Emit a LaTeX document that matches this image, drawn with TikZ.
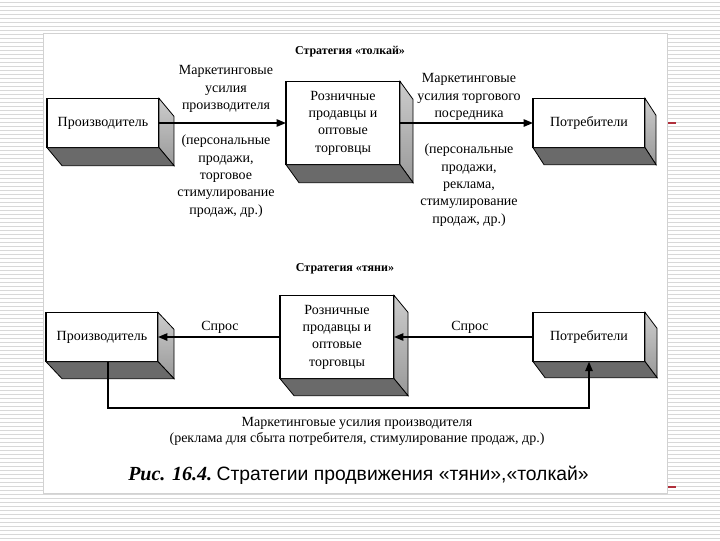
\documentclass[tikz,border=0pt]{standalone}
\usepackage{fontspec}
\setmainfont{Liberation Serif}
\newfontfamily\capsans{Liberation Sans}
\usetikzlibrary{arrows.meta,calc}
\definecolor{stripe}{HTML}{D8D8D8}
\definecolor{botgray}{HTML}{6A6A6A}
\definecolor{markred}{HTML}{B0303C}
\newcommand\bodyfont{\fontsize{10.5}{13}\selectfont}
\newcommand\drawsolid[3]{%
  \path[draw=black, line width=0.6pt, top color=gray!40, bottom color=gray!80]
    (#1.north east) -- ++(#2,#3) -- ($(#1.south east)+(#2,#3)$) -- (#1.south east) -- cycle;
  \path[draw=black, line width=0.6pt, fill=botgray]
    (#1.south west) -- (#1.south east) -- ++(#2,#3) -- ($(#1.south west)+(#2,#3)$) -- cycle;
}
\tikzset{
  frontbox/.style={draw=black, line width=0.8pt, fill=white, align=center,
    inner sep=0pt, outer sep=0pt, font=\bodyfont},
  smallbox/.style={frontbox, minimum width=84pt, minimum height=37pt},
  bigbox/.style={frontbox, minimum width=85.5pt, minimum height=62.5pt},
  lbl/.style={align=center, font=\bodyfont, inner sep=0pt},
  ttl/.style={font=\fontsize{9}{11}\selectfont\bfseries, inner sep=0pt},
  conn/.style={line width=1.1pt, -{Triangle[length=7pt,width=5.5pt]}},
}
\begin{document}
\begin{tikzpicture}[x=0.75pt,y=-0.75pt]
\useasboundingbox (0,0) rectangle (720,540);
\fill[white] (0,0) rectangle (720,540);
\foreach \k in {0,...,134} \draw[stripe, line width=0.75pt] (0,{\k*4+2}) -- (720,{\k*4+2});
\fill[white] (43,33) rectangle (667,493);
\draw[gray!35, line width=0.5pt] (43,33) rectangle (667,493);

% top row
\node[smallbox] (p1) at (103,123) {Производитель};
\node[bigbox] (r1) at (343,123) {Розничные\\продавцы и\\оптовые\\торговцы};
\node[smallbox] (c1) at (589,123) {Потребители};
\drawsolid{p1}{15}{18}
\drawsolid{r1}{13}{18}
\drawsolid{c1}{11}{17}

% bottom row
\node[smallbox] (p2) at (102,337) {Производитель};
\node[bigbox] (r2) at (337,337) {Розничные\\продавцы и\\оптовые\\торговцы};
\node[smallbox] (c2) at (589,337) {Потребители};
\drawsolid{p2}{16}{17}
\drawsolid{r2}{14}{17}
\drawsolid{c2}{12}{16}

% titles
\node[ttl] (t1) at (350,52) {Стратегия «толкай»};
\node[ttl] (t2) at (345,269) {Стратегия «тяни»};

% top connectors
\draw[conn] (p1.east) -- (r1.west);
\draw[conn] (r1.east) -- (c1.west);
\node[lbl] (m1) at (226,89) {Маркетинговые\\усилия\\производителя};
\node[lbl] (m1b) at (226,176) {(персональные\\продажи,\\торговое\\стимулирование\\продаж, др.)};
\node[lbl] (m2) at (469,97) {Маркетинговые\\усилия торгового\\посредника};
\node[lbl] (m2b) at (469,185) {(персональные\\продажи,\\реклама,\\стимулирование\\продаж, др.)};

% bottom connectors
\draw[conn] (c2.west) -- (r2.east);
\draw[conn] (r2.west) -- (p2.east);
\node[lbl] (s1) at (220,327) {Спрос};
\node[lbl] (s2) at (470,327) {Спрос};
\coordinate (lc) at (108,408);
\draw[conn] (p2.south -| lc) -- (lc) -| (c2.south);
\node[lbl, font=\fontsize{10.5}{12}\selectfont] (b1) at (357,431)
  {Маркетинговые усилия производителя\\(реклама для сбыта потребителя, стимулирование продаж, др.)};

% caption
\node[anchor=west, inner sep=0pt] (cap) at (128,475)
  {{\bfseries\itshape\fontsize{15}{18}\selectfont Рис. 16.4.} {\capsans\fontsize{14.5}{18}\selectfont Стратегии продвижения «тяни»,«толкай»}};

% side marks
\draw[markred, line width=1.2pt] (668,123) -- (676,123);
\draw[markred, line width=1.2pt] (668,487) -- (676,487);
\end{tikzpicture}
\end{document}
